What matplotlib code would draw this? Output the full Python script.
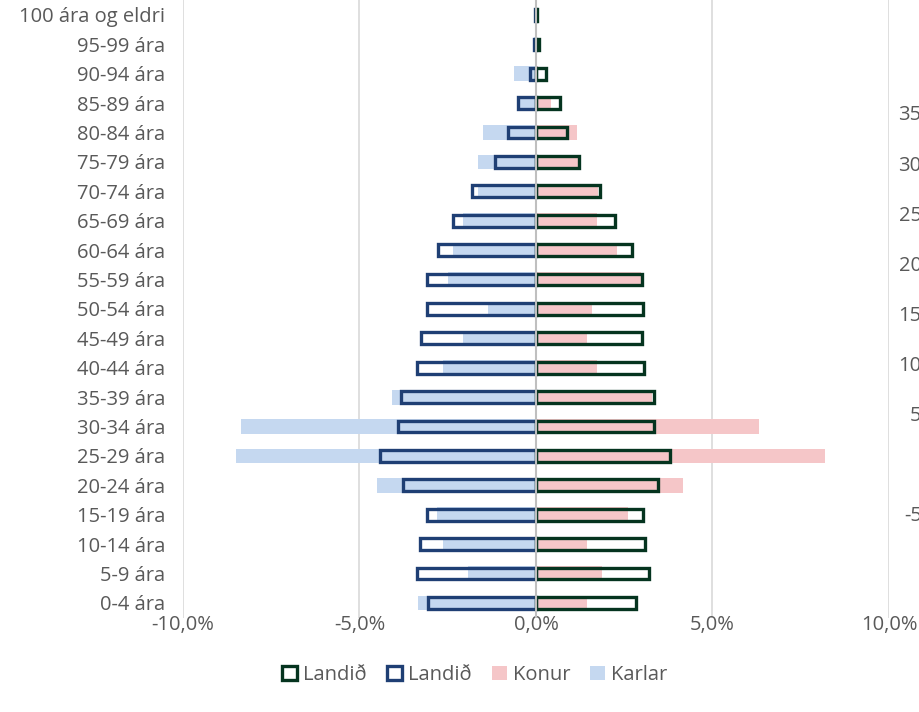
import matplotlib.pyplot as plt
from matplotlib.patches import Patch
from matplotlib.ticker import FuncFormatter

plt.rcParams['font.family'] = ['Open Sans', 'DejaVu Sans']

# age groups, bottom to top
groups = ["0-4 ára", "5-9 ára", "10-14 ára", "15-19 ára", "20-24 ára", "25-29 ára",
          "30-34 ára", "35-39 ára", "40-44 ára", "45-49 ára", "50-54 ára", "55-59 ára",
          "60-64 ára", "65-69 ára", "70-74 ára", "75-79 ára", "80-84 ára", "85-89 ára",
          "90-94 ára", "95-99 ára", "100 ára og eldri"]

# share of population, %
karlar = [-3.34, -1.93, -2.63, -2.80, -4.50, -8.50, -8.36, -4.08, -2.63, -2.07, -1.36,
          -2.49, -2.35, -2.07, -1.64, -1.63, -1.50, -0.50, -0.62, -0.05, -0.02]
konur = [1.44, 1.87, 1.44, 2.61, 4.16, 8.19, 6.32, 3.29, 1.73, 1.44, 1.59,
         2.97, 2.29, 1.73, 1.76, 1.22, 1.16, 0.42, 0.05, 0.03, 0.01]
landid_karlar = [-3.05, -3.36, -3.30, -3.08, -3.76, -4.41, -3.90, -3.81, -3.36, -3.27, -3.10,
                 -3.08, -2.79, -2.34, -1.80, -1.15, -0.78, -0.50, -0.18, -0.06, -0.02]
landid_konur = [2.82, 3.19, 3.10, 3.02, 3.47, 3.81, 3.33, 3.33, 3.05, 2.99, 3.02,
                2.99, 2.71, 2.23, 1.80, 1.23, 0.87, 0.67, 0.27, 0.08, 0.02]

x_ticks = [-10, -5, 0, 5, 10]
right_ticks = [35, 30, 25, 20, 15, 10, 5, -5]

c_karlar = '#C5D8F0'
c_konur = '#F5C6C8'
c_navy = '#1F3F74'
c_green = '#05341F'
c_text = '#595959'
fs = 14.5

fig = plt.figure(figsize=(9.2, 7.12), dpi=100)
ax = fig.add_axes([0.1989, 0.1325, 0.7674, 0.8671])

y = list(range(len(groups)))
ax.barh(y, karlar, height=0.5, color=c_karlar, zorder=2)
ax.barh(y, konur, height=0.5, color=c_konur, zorder=2)
ax.barh(y, landid_karlar, height=0.4, facecolor='none', edgecolor=c_navy, linewidth=2.4, zorder=3)
ax.barh(y, landid_konur, height=0.4, facecolor='none', edgecolor=c_green, linewidth=2.4, zorder=3)
ax.axvline(0, color='#BFBFBF', linewidth=1.5, zorder=4)

ax.set_xlim(-10, 10)
ax.set_ylim(-0.5, len(groups) - 0.5)
ax.set_xticks(x_ticks)
ax.xaxis.set_major_formatter(FuncFormatter(lambda v, p: f"{v:.1f}%".replace('.', ',')))
ax.set_yticks(y)
ax.set_yticklabels(groups)
ax.grid(axis='x', color='#D9D9D9', linewidth=1.2, zorder=0)
ax.set_axisbelow(True)
for s in ax.spines.values():
    s.set_visible(False)
ax.tick_params(axis='both', length=0, labelsize=fs, labelcolor=c_text)
ax.tick_params(axis='y', pad=13)
ax.tick_params(axis='x', pad=-2)

# secondary axis, mostly cut off at the right edge
ax2 = ax.twinx()
ax2.set_ylim(-15.46, 46.27)
ax2.set_yticks(right_ticks)
ax2.set_yticklabels([str(t) for t in right_ticks])
for s in ax2.spines.values():
    s.set_visible(False)
ax2.tick_params(axis='y', length=0, labelsize=fs, labelcolor=c_text, pad=23.5)
for lbl in ax2.get_yticklabels():
    lbl.set_horizontalalignment('right')

handles = [Patch(facecolor='white', edgecolor=c_green, linewidth=2.4, label='Landið'),
           Patch(facecolor='white', edgecolor=c_navy, linewidth=2.4, label='Landið'),
           Patch(facecolor=c_konur, edgecolor='none', label='Konur'),
           Patch(facecolor=c_karlar, edgecolor='none', label='Karlar')]
leg = fig.legend(handles=handles, loc='center', bbox_to_anchor=(0.516, 0.052), ncol=4,
                 frameon=False, fontsize=fs, handlelength=0.75, handleheight=0.75,
                 handletextpad=0.3, columnspacing=1.0)
for t in leg.get_texts():
    t.set_color(c_text)

fig.savefig('out.png', dpi=100)
